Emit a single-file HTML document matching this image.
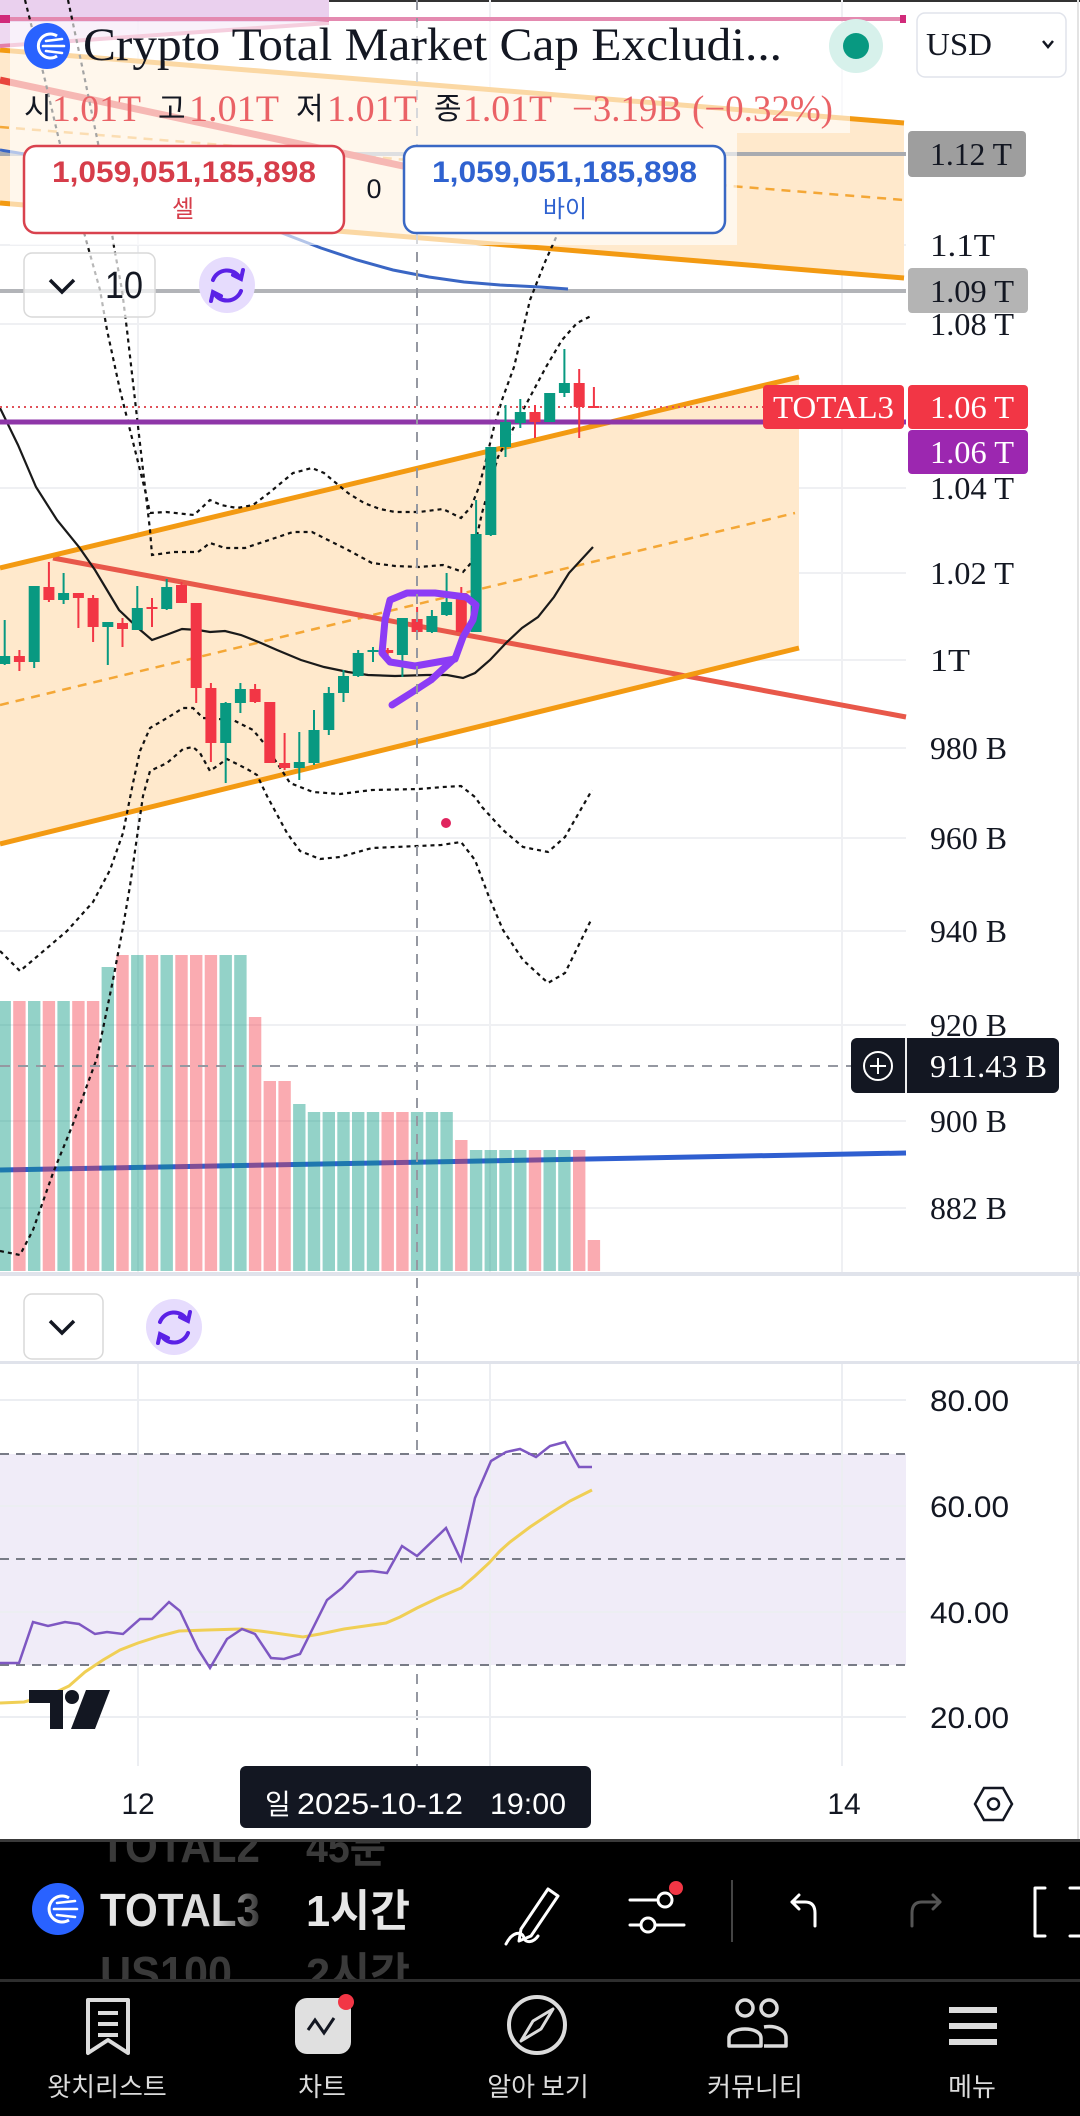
<!DOCTYPE html>
<html><head><meta charset="utf-8"><style>html,body{margin:0;padding:0;background:#fff;}svg{display:block}</style></head>
<body>
<svg width="1080" height="2116" viewBox="0 0 1080 2116" xmlns="http://www.w3.org/2000/svg">
<defs>
<linearGradient id="fade" x1="100" y1="0" x2="262" y2="0" gradientUnits="userSpaceOnUse">
<stop offset="0" stop-color="#e8e8e8"/><stop offset="0.72" stop-color="#d8d8d8"/><stop offset="1" stop-color="#2a2a2a"/>
</linearGradient>
<clipPath id="tb"><rect x="0" y="1842" width="1080" height="137"/></clipPath>
</defs>
<rect width="1080" height="2116" fill="#fff"/>
<rect x="0" y="0" width="1080" height="2" fill="#333"/>

<!-- grid main -->
<g stroke="#eff0f3" stroke-width="2">
<line x1="0" y1="245" x2="906" y2="245"/><line x1="0" y1="324" x2="906" y2="324"/>
<line x1="0" y1="488" x2="906" y2="488"/><line x1="0" y1="573" x2="906" y2="573"/>
<line x1="0" y1="660" x2="906" y2="660"/><line x1="0" y1="748" x2="906" y2="748"/>
<line x1="0" y1="838" x2="906" y2="838"/><line x1="0" y1="931" x2="906" y2="931"/>
<line x1="0" y1="1025" x2="906" y2="1025"/><line x1="0" y1="1121" x2="906" y2="1121"/>
<line x1="0" y1="1208" x2="906" y2="1208"/>
<line x1="138" y1="0" x2="138" y2="1272"/><line x1="490" y1="0" x2="490" y2="1272"/><line x1="842" y1="0" x2="842" y2="1272"/>
</g>
<line x1="1078" y1="0" x2="1078" y2="1839" stroke="#e3e3e3" stroke-width="2"/>

<!-- upper channel -->
<polygon points="0,50 904,123 904,278 0,203" fill="#ffe9cc"/>
<line x1="0" y1="127" x2="904" y2="200" stroke="#f4a736" stroke-width="2.5" stroke-dasharray="9 7"/>
<line x1="0" y1="50" x2="904" y2="123" stroke="#f39a12" stroke-width="5"/>
<line x1="0" y1="203" x2="904" y2="278" stroke="#f39a12" stroke-width="5"/>

<!-- lower channel fill -->
<polygon points="0,568 799,377 799,648 0,844" fill="#ffe9cc"/>
<line x1="0" y1="705" x2="795" y2="513" stroke="#f4a736" stroke-width="2.5" stroke-dasharray="9 7"/>

<!-- lavender / pink top -->
<rect x="0" y="0" width="329" height="19" fill="#ead0ee"/>
<polygon points="0,19 329,19 329,22 0,46" fill="#ead0ee" opacity="0.8"/>
<line x1="0" y1="46" x2="329" y2="23" stroke="#e47fa8" stroke-width="4"/>
<line x1="10" y1="19" x2="904" y2="19" stroke="#e48ab0" stroke-width="4"/>
<rect x="0" y="15" width="10" height="8" fill="#d12a7a"/><rect x="900" y="15" width="6" height="8" fill="#d12a7a"/>

<!-- grey lines -->
<line x1="0" y1="154" x2="906" y2="154" stroke="#a9abb0" stroke-width="4"/>
<line x1="0" y1="291" x2="906" y2="291" stroke="#b2b4b8" stroke-width="4"/>

<!-- blue curve -->
<path d="M0,150 C100,165 200,200 282,233 L321,248 L357,260 L393,270 L429,277 L464,282 L500,285 L540,287 L568,289" fill="none" stroke="#3a66c4" stroke-width="3"/>

<!-- red lines -->
<line x1="0" y1="80" x2="600" y2="208" stroke="#e8453a" stroke-width="7"/>
<line x1="53" y1="558" x2="906" y2="717" stroke="#e8584a" stroke-width="5"/>

<!-- lower channel lines -->
<line x1="0" y1="568" x2="799" y2="377" stroke="#f39a12" stroke-width="5"/>
<line x1="0" y1="844" x2="799" y2="648" stroke="#f39a12" stroke-width="5"/>

<!-- volume blue line -->
<line x1="0" y1="1170" x2="906" y2="1153" stroke="#2f5fd0" stroke-width="5"/>

<!-- volume bars -->
<g fill="rgba(8,153,129,0.44)">
<rect x="-1.5" y="1001" width="12.4" height="270"/>
<rect x="28.0" y="1001" width="12.4" height="270"/>
<rect x="57.4" y="1001" width="12.4" height="270"/>
<rect x="101.6" y="967" width="12.4" height="304"/>
<rect x="131.1" y="955" width="12.4" height="316"/>
<rect x="160.5" y="955" width="12.4" height="316"/>
<rect x="219.5" y="955" width="12.4" height="316"/>
<rect x="234.2" y="955" width="12.4" height="316"/>
<rect x="293.1" y="1104" width="12.4" height="167"/>
<rect x="307.8" y="1112" width="12.4" height="159"/>
<rect x="322.6" y="1112" width="12.4" height="159"/>
<rect x="337.3" y="1112" width="12.4" height="159"/>
<rect x="352.0" y="1112" width="12.4" height="159"/>
<rect x="366.8" y="1112" width="12.4" height="159"/>
<rect x="410.9" y="1112" width="12.4" height="159"/>
<rect x="425.7" y="1112" width="12.4" height="159"/>
<rect x="440.4" y="1112" width="12.4" height="159"/>
<rect x="469.9" y="1150" width="12.4" height="121"/>
<rect x="484.6" y="1150" width="12.4" height="121"/>
<rect x="499.3" y="1150" width="12.4" height="121"/>
<rect x="514.1" y="1150" width="12.4" height="121"/>
<rect x="543.5" y="1150" width="12.4" height="121"/>
<rect x="558.2" y="1150" width="12.4" height="121"/>
</g>
<g fill="rgba(242,54,69,0.42)">
<rect x="13.2" y="1001" width="12.4" height="270"/>
<rect x="42.7" y="1001" width="12.4" height="270"/>
<rect x="72.2" y="1001" width="12.4" height="270"/>
<rect x="86.9" y="1001" width="12.4" height="270"/>
<rect x="116.3" y="955" width="12.4" height="316"/>
<rect x="145.8" y="955" width="12.4" height="316"/>
<rect x="175.3" y="955" width="12.4" height="316"/>
<rect x="190.0" y="955" width="12.4" height="316"/>
<rect x="204.7" y="955" width="12.4" height="316"/>
<rect x="248.9" y="1017" width="12.4" height="254"/>
<rect x="263.6" y="1081" width="12.4" height="190"/>
<rect x="278.4" y="1081" width="12.4" height="190"/>
<rect x="381.5" y="1112" width="12.4" height="159"/>
<rect x="396.2" y="1112" width="12.4" height="159"/>
<rect x="455.1" y="1140" width="12.4" height="131"/>
<rect x="528.8" y="1150" width="12.4" height="121"/>
<rect x="573.0" y="1150" width="12.4" height="121"/>
<rect x="587.7" y="1240" width="12.4" height="31"/>
</g>

<!-- black MA -->
<polyline points="0,408 18,445 36,487 57,520 79,547 95,570 119,610 138,628 152,640 166,635 182,629 198,630 210,632 225,631 241,635 261,643 277,650 301,660 324,667 348,672 368,675 395,676 427,675 447,675 463,678 475,673 490,660 506,643 522,628 538,617 554,597 569,573 593,547" fill="none" stroke="#1a1a1a" stroke-width="2.2"/>

<!-- dashed bands -->
<g fill="none" stroke="#111" stroke-width="2.2" stroke-dasharray="4 4">
<polyline points="25,0 45,80 59,140 75,200 88,247 100,290 107,330 120,390 135,450 145,490 150,513 166,512 194,515 210,500 221,505 237,508 253,505 269,493 293,473 312,468 324,473 336,483 348,493 364,503 380,509 395,512 419,512 443,509 461,518 471,507 479,487 486,460 494,427 502,400 514,367 530,300 545,262 558,233 570,200"/>
<polyline points="68,0 85,80 98,143 107,200 114,247 122,290 127,330 135,400 143,470 150,530 152,555 174,552 198,552 210,543 225,548 245,548 269,540 293,532 312,532 332,542 348,550 372,563 395,566 419,567 443,565 463,572 471,563 482,513 498,457 514,427 530,397 546,367 562,340 577,323 593,315"/>
<polyline points="0,951 20,971 33,960 67,931 93,902 110,870 123,833 133,783 140,751 150,728 167,718 183,708 193,708 203,718 233,720 253,730 263,742 277,763 290,783 313,792 340,794 372,790 419,789 443,787 461,786 475,797 482,807 503,830 523,847 548,852 565,837 592,790"/>
<polyline points="0,1251 20,1255 33,1230 53,1173 73,1124 97,1058 113,980 123,927 130,886 137,837 143,796 150,771 167,763 183,749 193,747 200,753 210,771 227,759 247,769 257,775 267,796 287,833 300,851 320,859 340,857 372,848 441,845 461,842 475,860 489,897 503,930 523,960 548,983 565,973 592,918"/>
</g>

<!-- purple horizontal & price line -->
<line x1="0" y1="422" x2="906" y2="422" stroke="#8e36a8" stroke-width="5"/>
<line x1="0" y1="407" x2="763" y2="407" stroke="#e0525a" stroke-width="2" stroke-dasharray="2 4"/>

<!-- candles green -->
<g fill="#089981">
<path d="M4.7,620V665M34.2,586V668M63.6,573V604M107.8,622V665M137.3,586V630M166.7,579V610M225.7,702V783M240.4,683V713M299.3,732V780M314,710V765M328.8,687V735M343.5,670V702M358.2,650V677M373,647V662M402.4,618V677M431.9,610V633M446.6,573V616M476.1,500V632M490.8,447V536M505.5,405V457M520.3,399V428M549.7,393V422M564.4,349V397" stroke="#089981" stroke-width="2"/>
<rect x="-0.8" y="656" width="11" height="8"/>
<rect x="28.7" y="586" width="11" height="76"/>
<rect x="58.1" y="593" width="11" height="7"/>
<rect x="102.3" y="622" width="11" height="5"/>
<rect x="131.8" y="608" width="11" height="22"/>
<rect x="161.2" y="587" width="11" height="22"/>
<rect x="220.2" y="703" width="11" height="40"/>
<rect x="234.9" y="689" width="11" height="14"/>
<rect x="293.8" y="762" width="11" height="6"/>
<rect x="308.5" y="730" width="11" height="33"/>
<rect x="323.3" y="693" width="11" height="37"/>
<rect x="338" y="676" width="11" height="17"/>
<rect x="352.7" y="653" width="11" height="23"/>
<rect x="367.5" y="650" width="11" height="2"/>
<rect x="396.9" y="618" width="11" height="37"/>
<rect x="426.4" y="616" width="11" height="16"/>
<rect x="441.1" y="602" width="11" height="13"/>
<rect x="470.6" y="534" width="11" height="98"/>
<rect x="485.3" y="447" width="11" height="88"/>
<rect x="500" y="422" width="11" height="25"/>
<rect x="514.8" y="412" width="11" height="11"/>
<rect x="544.2" y="393" width="11" height="29"/>
<rect x="558.9" y="383" width="11" height="10"/>
</g>
<g fill="#f23645">
<path d="M19.4,650V671M48.9,562V602M78.4,593V628M93.1,595V642M122.5,618V647M152,598V627M181.5,582V603M196.2,603V703M210.9,683V762M255.1,684V703M269.8,702V763M284.6,733V770M387.7,648V660M417.1,607V633M461.3,587V633M535,405V438M579.2,369V438M593.9,387V408" stroke="#f23645" stroke-width="2"/>
<rect x="13.9" y="656" width="11" height="6"/>
<rect x="43.4" y="587" width="11" height="13"/>
<rect x="72.9" y="593" width="11" height="5"/>
<rect x="87.6" y="598" width="11" height="29"/>
<rect x="117" y="623" width="11" height="6"/>
<rect x="146.5" y="607" width="11" height="2"/>
<rect x="176" y="585" width="11" height="18"/>
<rect x="190.7" y="603" width="11" height="85"/>
<rect x="205.4" y="688" width="11" height="55"/>
<rect x="249.6" y="689" width="11" height="13"/>
<rect x="264.3" y="702" width="11" height="61"/>
<rect x="279.1" y="763" width="11" height="5"/>
<rect x="382.2" y="650" width="11" height="3"/>
<rect x="411.6" y="619" width="11" height="13"/>
<rect x="455.8" y="593" width="11" height="39"/>
<rect x="529.5" y="412" width="11" height="10"/>
<rect x="573.7" y="383" width="11" height="24"/>
<rect x="588.4" y="406" width="11" height="2"/>
</g>

<!-- purple annotation -->
<g fill="none" stroke="#8c3cf5" stroke-width="7" stroke-linecap="round" stroke-linejoin="round">
<polyline points="466,597 435,593 407,593 390,600 385,620 382,653 390,662 415,666 455,659 463,637 473,620 476,605 466,597"/>
<polyline points="455,658 431,680 411,693 392,705"/>
</g>
<circle cx="446" cy="823" r="5" fill="#e0245e"/>

<!-- crosshair -->
<line x1="417" y1="0" x2="417" y2="1766" stroke="#9598a1" stroke-width="2" stroke-dasharray="10 8"/>
<line x1="0" y1="1066" x2="851" y2="1066" stroke="#9598a1" stroke-width="2" stroke-dasharray="10 8"/>

<!-- legend overlays -->
<rect x="10" y="22" width="840" height="111" fill="#fff" opacity="0.62"/>
<rect x="10" y="133" width="727" height="112" fill="#fff" opacity="0.62"/>

<!-- title -->
<circle cx="47" cy="46" r="23" fill="#2962ff"/>
<path d="M57,36 A12,12 0 1 0 57,56" fill="none" stroke="#fff" stroke-width="3"/>
<g stroke="#fff" stroke-width="2.6" stroke-linecap="round"><line x1="46" y1="41" x2="62" y2="39"/><line x1="43" y1="46" x2="64" y2="46"/><line x1="46" y1="51" x2="62" y2="53"/></g>
<text x="83" y="60" font-family="Liberation Serif, serif" font-size="47" fill="#131722" textLength="699" lengthAdjust="spacingAndGlyphs">Crypto Total Market Cap Excludi...</text>
<circle cx="856" cy="46" r="27" fill="#d7f1eb"/>
<circle cx="856" cy="46" r="13" fill="#089981"/>

<!-- OHLC -->
<g font-size="30" fill="#131722" font-family="Liberation Sans, Noto Sans CJK KR, sans-serif">
<text x="24" y="119">시</text><text x="158" y="119">고</text><text x="296" y="119">저</text><text x="434" y="119">종</text>
</g>
<g font-family="Liberation Serif, serif" font-size="37" fill="#ea6266">
<text x="52" y="121" textLength="89" lengthAdjust="spacingAndGlyphs">1.01T</text>
<text x="189" y="121" textLength="90" lengthAdjust="spacingAndGlyphs">1.01T</text>
<text x="327" y="121" textLength="90" lengthAdjust="spacingAndGlyphs">1.01T</text>
<text x="463" y="121" textLength="89" lengthAdjust="spacingAndGlyphs">1.01T</text>
<text x="572" y="121" textLength="110" lengthAdjust="spacingAndGlyphs">−3.19B</text>
<text x="692" y="121" textLength="141" lengthAdjust="spacingAndGlyphs">(−0.32%)</text>
</g>

<!-- sell / buy -->
<rect x="24" y="146" width="320" height="87" rx="12" fill="#fff" stroke="#d9424e" stroke-width="2.5"/>
<text x="52" y="182" font-family="Liberation Sans, sans-serif" font-weight="bold" font-size="30" fill="#d63d4a" textLength="264" lengthAdjust="spacingAndGlyphs">1,059,051,185,898</text>
<text x="183" y="217" text-anchor="middle" font-family="Noto Sans CJK KR, sans-serif" font-size="24" fill="#d63d4a">셀</text>
<text x="374" y="198" text-anchor="middle" font-family="Liberation Sans, sans-serif" font-size="27" fill="#131722">0</text>
<rect x="404" y="146" width="321" height="87" rx="12" fill="#fff" stroke="#3a68c4" stroke-width="2.5"/>
<text x="432" y="182" font-family="Liberation Sans, sans-serif" font-weight="bold" font-size="30" fill="#2f62d0" textLength="265" lengthAdjust="spacingAndGlyphs">1,059,051,185,898</text>
<text x="565" y="217" text-anchor="middle" font-family="Noto Sans CJK KR, sans-serif" font-size="24" fill="#2f62d0">바이</text>

<!-- ⌄ 10 + refresh -->
<rect x="24" y="253" width="131" height="64" rx="8" fill="#fff" fill-opacity="0.7" stroke="#d9d9d9" stroke-width="1.5"/>
<polyline points="50,280 62,292 74,280" fill="none" stroke="#131722" stroke-width="3.5"/>
<text x="105" y="298" font-family="Liberation Sans, sans-serif" font-size="38" fill="#131722" textLength="38" lengthAdjust="spacingAndGlyphs">10</text>
<circle cx="227" cy="285" r="28" fill="#e6dcfd"/>
<g fill="none" stroke="#5b21e6" stroke-width="4" stroke-linecap="round">
<path d="M213,280 A15,15 0 0 1 240,278"/><polyline points="233,275 241,279 243,270"/>
<path d="M241,291 A15,15 0 0 1 214,293"/><polyline points="221,296 213,292 211,301"/>
</g>

<!-- USD -->
<rect x="917" y="13" width="149" height="64" rx="8" fill="#fff" stroke="#e0e3eb" stroke-width="1.5"/>
<text x="926" y="55" font-family="Liberation Serif, serif" font-size="32" fill="#131722" textLength="66" lengthAdjust="spacingAndGlyphs">USD</text>
<polyline points="1043,41 1048,47 1053,41" fill="none" stroke="#131722" stroke-width="2.5"/>

<!-- price axis -->
<rect x="908" y="131" width="118" height="46" rx="4" fill="#9e9e9e"/>
<rect x="908" y="268" width="120" height="45" rx="4" fill="#b4b4b4"/>
<rect x="763" y="385" width="141" height="44" rx="4" fill="#f23645"/>
<rect x="908" y="385" width="120" height="44" rx="4" fill="#f23645"/>
<rect x="908" y="430" width="120" height="44" rx="4" fill="#9c27b0"/>
<rect x="851" y="1038" width="208" height="55" rx="6" fill="#131722"/>
<line x1="906" y1="1038" x2="906" y2="1093" stroke="#eee" stroke-width="2"/>
<circle cx="878" cy="1066" r="14" fill="none" stroke="#fff" stroke-width="2"/>
<path d="M870,1066H886M878,1058V1074" stroke="#fff" stroke-width="2"/>
<g font-family="Liberation Serif, serif" font-size="32" fill="#131722">
<text x="930" y="165" textLength="82" lengthAdjust="spacingAndGlyphs">1.12 T</text>
<text x="930" y="256" textLength="65" lengthAdjust="spacingAndGlyphs">1.1T</text>
<text x="930" y="302" textLength="84" lengthAdjust="spacingAndGlyphs">1.09 T</text>
<text x="930" y="335" textLength="84" lengthAdjust="spacingAndGlyphs">1.08 T</text>
<text x="930" y="499" textLength="84" lengthAdjust="spacingAndGlyphs">1.04 T</text>
<text x="930" y="584" textLength="84" lengthAdjust="spacingAndGlyphs">1.02 T</text>
<text x="930" y="671" textLength="40" lengthAdjust="spacingAndGlyphs">1T</text>
<text x="930" y="759" textLength="77" lengthAdjust="spacingAndGlyphs">980 B</text>
<text x="930" y="849" textLength="77" lengthAdjust="spacingAndGlyphs">960 B</text>
<text x="930" y="942" textLength="77" lengthAdjust="spacingAndGlyphs">940 B</text>
<text x="930" y="1036" textLength="77" lengthAdjust="spacingAndGlyphs">920 B</text>
<text x="930" y="1132" textLength="77" lengthAdjust="spacingAndGlyphs">900 B</text>
<text x="930" y="1219" textLength="77" lengthAdjust="spacingAndGlyphs">882 B</text>
</g>
<g font-family="Liberation Serif, serif" font-size="32" fill="#fff">
<text x="773" y="418" textLength="121" lengthAdjust="spacingAndGlyphs">TOTAL3</text>
<text x="930" y="418" textLength="84" lengthAdjust="spacingAndGlyphs">1.06 T</text>
<text x="930" y="463" textLength="84" lengthAdjust="spacingAndGlyphs">1.06 T</text>
<text x="930" y="1077" textLength="117" lengthAdjust="spacingAndGlyphs">911.43 B</text>
</g>

<!-- separators & middle pane -->
<rect x="0" y="1272" width="1080" height="4" fill="#e0e3eb"/>
<rect x="0" y="1361" width="1080" height="3" fill="#e0e3eb"/>
<rect x="24" y="1294" width="79" height="65" rx="8" fill="#fff" stroke="#d9d9d9" stroke-width="1.5"/>
<polyline points="50,1321 62,1333 74,1321" fill="none" stroke="#131722" stroke-width="3.5"/>
<circle cx="174" cy="1327" r="28" fill="#e6dcfd"/>
<g fill="none" stroke="#5b21e6" stroke-width="4" stroke-linecap="round">
<path d="M160,1322 A15,15 0 0 1 187,1320"/><polyline points="180,1317 188,1321 190,1312"/>
<path d="M188,1333 A15,15 0 0 1 161,1335"/><polyline points="168,1338 160,1334 158,1343"/>
</g>

<!-- RSI pane -->
<rect x="0" y="1454" width="906" height="211" fill="#f0ecf8"/>
<g stroke="#eceef2" stroke-width="2">
<line x1="0" y1="1400" x2="906" y2="1400"/><line x1="0" y1="1506" x2="906" y2="1506"/>
<line x1="0" y1="1612" x2="906" y2="1612"/><line x1="0" y1="1717" x2="906" y2="1717"/>
<line x1="138" y1="1364" x2="138" y2="1766"/><line x1="490" y1="1364" x2="490" y2="1766"/><line x1="842" y1="1364" x2="842" y2="1766"/>
</g>
<g stroke="#787b86" stroke-width="2" stroke-dasharray="9 7">
<line x1="0" y1="1454" x2="906" y2="1454"/><line x1="0" y1="1559" x2="906" y2="1559"/><line x1="0" y1="1665" x2="906" y2="1665"/>
</g>
<polyline points="0,1703 24,1702 50,1695 69,1686 85,1672 103,1660 120,1650 138,1643 160,1636 179,1631 207,1630 241,1629 260,1631 275,1633 303,1637 320,1634 344,1629 365,1626 386,1623 400,1617 417,1608 440,1597 461,1588 475,1576 489,1563 500,1551 510,1542 530,1527 551,1513 570,1501 592,1490" fill="none" stroke="#f0cf55" stroke-width="3"/>
<polyline points="0,1663 19,1663 33,1622 48,1626 65,1622 79,1624 95,1634 107,1632 123,1634 140,1619 152,1619 169,1602 180,1611 198,1649 210,1668 227,1639 242,1629 255,1634 271,1658 284,1659 300,1654 327,1600 342,1588 357,1572 372,1571 387,1573 402,1546 417,1556 446,1528 461,1560 475,1498 491,1461 506,1452 520,1449 536,1457 550,1446 565,1442 579,1467 592,1467" fill="none" stroke="#7e57c2" stroke-width="2.5"/>
<g fill="#131722">
<path d="M29,1690H63V1729H50V1703H29Z"/>
<circle cx="72" cy="1697" r="7"/>
<path d="M86,1690H110L95,1729H71Z"/>
</g>
<g font-family="Liberation Sans, sans-serif" font-size="30" fill="#131722">
<text x="930" y="1411" textLength="79" lengthAdjust="spacingAndGlyphs">80.00</text>
<text x="930" y="1517" textLength="79" lengthAdjust="spacingAndGlyphs">60.00</text>
<text x="930" y="1623" textLength="79" lengthAdjust="spacingAndGlyphs">40.00</text>
<text x="930" y="1728" textLength="79" lengthAdjust="spacingAndGlyphs">20.00</text>
</g>

<!-- time axis -->
<text x="138" y="1814" text-anchor="middle" font-family="Liberation Sans, sans-serif" font-size="30" fill="#131722">12</text>
<text x="844" y="1814" text-anchor="middle" font-family="Liberation Sans, sans-serif" font-size="30" fill="#131722">14</text>
<rect x="240" y="1766" width="351" height="62" rx="6" fill="#131722"/>
<text x="265" y="1814" font-family="Noto Sans CJK KR, sans-serif" font-size="28" fill="#fff">일</text>
<text x="297" y="1814" font-family="Liberation Sans, sans-serif" font-size="30" fill="#fff" textLength="166" lengthAdjust="spacingAndGlyphs">2025-10-12</text>
<text x="490" y="1814" font-family="Liberation Sans, sans-serif" font-size="30" fill="#fff" textLength="76" lengthAdjust="spacingAndGlyphs">19:00</text>
<polygon points="975,1804 984,1788 1003,1788 1012,1804 1003,1820 984,1820" fill="none" stroke="#131722" stroke-width="2.5"/>
<circle cx="993.5" cy="1804" r="5.5" fill="none" stroke="#131722" stroke-width="2.5"/>

<!-- toolbar -->
<rect x="0" y="1839" width="1080" height="277" fill="#000"/>
<rect x="0" y="1839" width="1080" height="3" fill="#3a3a3a"/>
<g clip-path="url(#tb)">
<text x="100" y="1862" font-family="Liberation Sans, sans-serif" font-weight="bold" font-size="46" fill="#3a3a3a" textLength="160" lengthAdjust="spacingAndGlyphs">TOTAL2</text>
<text x="306" y="1862" font-family="Liberation Sans, Noto Sans CJK KR, sans-serif" font-weight="bold" font-size="44" fill="#3a3a3a" textLength="80" lengthAdjust="spacingAndGlyphs">45분</text>
<text x="100" y="1989" font-family="Liberation Sans, sans-serif" font-weight="bold" font-size="46" fill="#3a3a3a" textLength="132" lengthAdjust="spacingAndGlyphs">US100</text>
<text x="306" y="1989" font-family="Liberation Sans, Noto Sans CJK KR, sans-serif" font-weight="bold" font-size="44" fill="#3a3a3a" textLength="104" lengthAdjust="spacingAndGlyphs">2시간</text>
</g>
<circle cx="58" cy="1909" r="26" fill="#2962ff"/>
<path d="M69,1898 A13,13 0 1 0 69,1920" fill="none" stroke="#fff" stroke-width="3"/>
<g stroke="#fff" stroke-width="2.6" stroke-linecap="round"><line x1="57" y1="1903" x2="75" y2="1901"/><line x1="54" y1="1909" x2="77" y2="1909"/><line x1="57" y1="1915" x2="75" y2="1917"/></g>
<text x="100" y="1926" font-family="Liberation Sans, sans-serif" font-weight="bold" font-size="46" fill="url(#fade)" textLength="160" lengthAdjust="spacingAndGlyphs">TOTAL3</text>
<text x="306" y="1926" font-family="Liberation Sans, Noto Sans CJK KR, sans-serif" font-weight="bold" font-size="44" fill="#e6e6e6" textLength="104" lengthAdjust="spacingAndGlyphs">1시간</text>
<g fill="none" stroke="#fff" stroke-width="3" stroke-linejoin="round" stroke-linecap="round">
<path d="M521,1929 L548,1889 L558,1896 L531,1936 L519,1941 Z"/>
<path d="M506,1944 C512,1932 522,1930 524,1938 C526,1944 534,1942 538,1936"/>
<line x1="630" y1="1900" x2="656" y2="1900"/><circle cx="665" cy="1900" r="7"/>
<line x1="630" y1="1925" x2="640" y2="1925"/><circle cx="648" cy="1925" r="7"/><line x1="656" y1="1925" x2="684" y2="1925"/>
<path d="M815,1926 V1913 Q815,1902 805,1902 H792"/><polyline points="799,1895 792,1902 799,1909"/>
<path d="M1045,1888 H1035 V1936 H1045"/><path d="M1080,1888 H1070 M1070,1936 H1080"/>
</g>
<circle cx="676" cy="1888" r="7" fill="#f23645"/>
<line x1="732" y1="1880" x2="732" y2="1942" stroke="#444" stroke-width="2"/>
<g fill="none" stroke="#555" stroke-width="3" stroke-linecap="round" stroke-linejoin="round">
<path d="M912,1926 V1913 Q912,1902 922,1902 H940"/><polyline points="933,1895 940,1902 933,1909"/>
</g>
<rect x="0" y="1979" width="1080" height="3" fill="#2e2e2e"/>

<!-- bottom nav -->
<g fill="none" stroke="#dcdcdc" stroke-width="4" stroke-linejoin="round">
<path d="M88,2000 H128 V2053 L108,2040 L88,2053 Z"/>
<path d="M98,2013 H118 M98,2024 H118 M98,2035 H118"/>
<circle cx="537" cy="2025" r="28"/>
<path d="M553,2009 L541,2029 L521,2041 L533,2021 Z" stroke-width="3"/>
<circle cx="745" cy="2008" r="8" stroke-width="3.5"/><circle cx="769" cy="2008" r="8" stroke-width="3.5"/>
<path d="M729,2046 V2038 C729,2026 761,2026 761,2038 V2046 Z" stroke-width="3.5"/>
<path d="M764,2027 C776,2025 786,2030 786,2038 V2046 H764" stroke-width="3.5"/>
</g>
<rect x="295" y="1998" width="56" height="56" rx="12" fill="#e0e0e0"/>
<polyline points="308,2030 315,2020 324,2033 334,2018" fill="none" stroke="#131722" stroke-width="3"/>
<circle cx="346" cy="2002" r="8" fill="#f23645"/>
<g fill="#dcdcdc"><rect x="949" y="2007" width="48" height="6"/><rect x="949" y="2023" width="48" height="6"/><rect x="949" y="2039" width="48" height="6"/></g>
<g font-family="Noto Sans CJK KR, sans-serif" font-size="26" fill="#dcdcdc" text-anchor="middle">
<text x="107" y="2096">왓치리스트</text>
<text x="322" y="2096">차트</text>
<text x="538" y="2096">알아 보기</text>
<text x="755" y="2096">커뮤니티</text>
<text x="972" y="2096">메뉴</text>
</g>
</svg>
</body></html>
